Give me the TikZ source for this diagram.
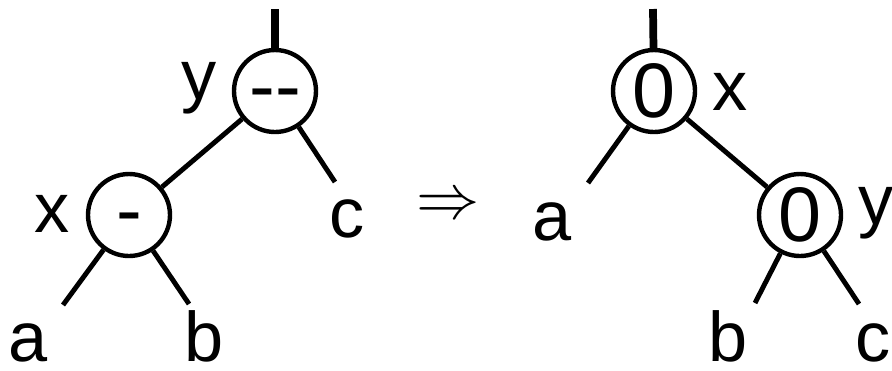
\RequirePackage{fix-cm}
\documentclass[tikz,border=0pt]{standalone}
\usepackage{fontspec}
\setmainfont{Liberation Sans}
\usepackage{tikz}

\begin{document}
\begin{tikzpicture}[x=0.02cm,y=-0.02cm,line join=round,
  bal/.style={circle,draw,line width=2.5pt,minimum size=1.64cm,inner sep=0pt,font=\fontsize{44}{50}\selectfont},
  dashbal/.style={bal,text height=24pt,text depth=0pt},
  lbl/.style={anchor=base,inner sep=0pt,font=\fontsize{40}{48}\selectfont},
  branch/.style={line width=2.8pt},
  stem/.style={line width=4.4pt}]
  \useasboundingbox (0,0) rectangle (892,370);
  \coordinate (TL) at (275,9);
  \coordinate (AL) at (63,305);
  \coordinate (BL) at (189,304);
  \coordinate (CL) at (335,182);
  \coordinate (TR) at (653,9);
  \coordinate (AR) at (588,183);
  \coordinate (BR) at (755,303);
  \coordinate (CR) at (859,304);
  \node[dashbal] (YL) at (275,91) {{-}{-}};
  \node[dashbal] (XL) at (129,215) {-};
  \node[bal] (XR) at (654,91) {0};
  \node[bal] (YR) at (800,215) {0};
  \draw[stem] (TL) -- (YL);
  \draw[branch] (YL) -- (XL);
  \draw[branch] (YL) -- (CL);
  \draw[branch] (XL) -- (AL);
  \draw[branch] (XL) -- (BL);
  \draw[stem] (TR) -- (XR);
  \draw[branch] (XR) -- (AR);
  \draw[branch] (XR) -- (YR);
  \draw[branch] (YR) -- (BR);
  \draw[branch] (YR) -- (CR);
  \node[lbl] (yl) at (199,99) {y};
  \node[lbl] (xl) at (52,232) {x};
  \node[lbl] (cl) at (347,237) {c};
  \node[lbl] (al) at (28,361) {a};
  \node[lbl] (bl) at (204,361) {b};
  \node[lbl] (xr) at (730,110) {x};
  \node[lbl] (yr) at (876,224) {y};
  \node[lbl] (ar) at (552,240) {a};
  \node[lbl] (br) at (728,361) {b};
  \node[lbl] (cr) at (873,361) {c};
  \node[inner sep=0pt,font=\fontsize{36}{40}\selectfont] (imp) at (448,207) {$\Rightarrow$};
\end{tikzpicture}
\end{document}
